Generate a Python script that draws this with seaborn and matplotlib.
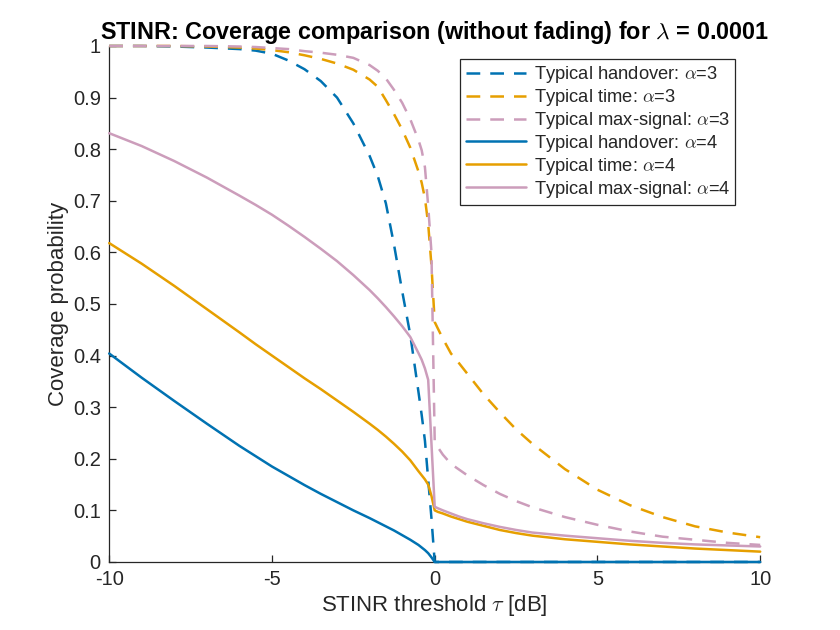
import matplotlib
matplotlib.use("Agg")
import matplotlib.pyplot as plt
import seaborn as sns
import pandas as pd

# ---- data ----
tau_db = [-10, -9, -8, -7, -6, -5.5, -5, -4.5, -4, -3.5, -3, -2.5, -2, -1.75, -1.5, -1.25, -1,
          -0.75, -0.5, -0.4, -0.3, -0.2, -0.1,
          0, 0.1, 0.25, 0.5, 0.75, 1, 1.5, 2, 2.5, 3, 4, 5, 6, 7, 8, 9, 10]

handover_a3 = [1.0, 1.0, 0.999, 0.997, 0.994, 0.991, 0.985, 0.972, 0.955, 0.932, 0.90, 0.85, 0.787,
               0.748, 0.695, 0.615, 0.525, 0.44, 0.33, 0.285, 0.235, 0.16, 0.085,
               0.0, 0, 0, 0, 0, 0, 0, 0, 0, 0, 0, 0, 0, 0, 0, 0, 0]
time_a3 = [1.0, 1.0, 1.0, 0.999, 0.997, 0.995, 0.992, 0.988, 0.982, 0.975, 0.966, 0.954, 0.935,
           0.921, 0.895, 0.868, 0.838, 0.803, 0.757, 0.735, 0.705, 0.655, 0.575,
           0.465, 0.452, 0.433, 0.404, 0.385, 0.365, 0.325, 0.29, 0.257, 0.229, 0.18, 0.14, 0.11,
           0.087, 0.069, 0.057, 0.048]
maxsig_a3 = [1.0, 1.0, 1.0, 1.0, 0.999, 0.998, 0.996, 0.994, 0.99, 0.987, 0.983, 0.977, 0.963,
             0.952, 0.937, 0.915, 0.89, 0.858, 0.818, 0.798, 0.765, 0.69, 0.60,
             0.235, 0.222, 0.208, 0.19, 0.179, 0.168, 0.149, 0.132, 0.118, 0.106, 0.087, 0.072,
             0.059, 0.049, 0.043, 0.037, 0.033]
handover_a4 = [0.404, 0.357, 0.312, 0.268, 0.225, 0.205, 0.185, 0.167, 0.149, 0.132, 0.116, 0.100,
               0.085, 0.077, 0.069, 0.061, 0.052, 0.043, 0.033, 0.028, 0.023, 0.017, 0.009,
               0.0, 0, 0, 0, 0, 0, 0, 0, 0, 0, 0, 0, 0, 0, 0, 0, 0]
time_a4 = [0.618, 0.578, 0.535, 0.490, 0.445, 0.422, 0.400, 0.378, 0.356, 0.335, 0.313, 0.291,
           0.268, 0.256, 0.243, 0.229, 0.214, 0.197, 0.176, 0.168, 0.160, 0.150, 0.128,
           0.10, 0.097, 0.094, 0.088, 0.083, 0.078, 0.07, 0.062, 0.056, 0.051, 0.044, 0.039,
           0.034, 0.03, 0.026, 0.023, 0.02]
maxsig_a4 = [0.831, 0.806, 0.777, 0.745, 0.710, 0.692, 0.673, 0.652, 0.630, 0.607, 0.583, 0.556,
             0.527, 0.511, 0.494, 0.476, 0.457, 0.436, 0.405, 0.392, 0.375, 0.353, 0.23,
             0.107, 0.104, 0.10, 0.094, 0.088, 0.083, 0.075, 0.068, 0.062, 0.057, 0.051, 0.046,
             0.041, 0.037, 0.034, 0.032, 0.03]

labels = ["Typical handover: $\\alpha$=3", "Typical time: $\\alpha$=3", "Typical max-signal: $\\alpha$=3",
          "Typical handover: $\\alpha$=4", "Typical time: $\\alpha$=4", "Typical max-signal: $\\alpha$=4"]
series = [handover_a3, time_a3, maxsig_a3, handover_a4, time_a4, maxsig_a4]

x_ticks = [-10, -5, 0, 5, 10]
y_ticks = [0, 0.1, 0.2, 0.3, 0.4, 0.5, 0.6, 0.7, 0.8, 0.9, 1]
y_tick_labels = ["0", "0.1", "0.2", "0.3", "0.4", "0.5", "0.6", "0.7", "0.8", "0.9", "1"]

# ---- style ----
sns.set_theme(style="white")
plt.rcParams['font.family'] = ['Liberation Sans', 'DejaVu Sans']
plt.rcParams['mathtext.fontset'] = 'cm'
plt.rcParams['axes.unicode_minus'] = False

colors = ["#0072B2", "#E69F00", "#CC9DBB", "#0072B2", "#E69F00", "#CC9DBB"]
styles = ["--", "--", "--", "-", "-", "-"]

fig = plt.figure(figsize=(8.4, 6.3), dpi=100)
ax = fig.add_axes([0.13, 0.108, 0.775, 0.819])

for lab, ys, c, ls in zip(labels, series, colors, styles):
    df = pd.DataFrame({"tau": tau_db, "p": ys})
    kw = dict(dashes=(5.5, 4)) if ls == "--" else {}
    sns.lineplot(data=df, x="tau", y="p", ax=ax, color=c, linewidth=1.8,
                 estimator=None, sort=False, label=lab, clip_on=False, **kw)

ax.set_xlim(-10, 10)
ax.set_ylim(0, 1)
ax.set_xticks(x_ticks)
ax.set_xticklabels([str(t) for t in x_ticks])
ax.set_yticks(y_ticks)
ax.set_yticklabels(y_tick_labels)

axc = "#262626"
for s in ["top", "right"]:
    ax.spines[s].set_visible(False)
for s in ["left", "bottom"]:
    ax.spines[s].set_color(axc)
    ax.spines[s].set_linewidth(0.9)
    ax.spines[s].set_zorder(0.5)
ax.tick_params(axis="both", direction="in", length=5, width=0.9, colors=axc,
               labelsize=14.5, labelcolor=axc, pad=6, left=True, bottom=True)

ax.set_xlabel("STINR threshold $\\tau$ [dB]", fontsize=16, color=axc, labelpad=3)
ax.set_ylabel("Coverage probability", fontsize=16, color=axc, labelpad=3)
ax.set_title("STINR: Coverage comparison (without fading) for $\\lambda$ = 0.0001",
             fontsize=16.8, fontweight="bold", color="black", pad=5)

leg = ax.legend(loc="upper right", bbox_to_anchor=(0.962, 0.975), fontsize=13.2,
                frameon=True, fancybox=False, edgecolor=axc, framealpha=1,
                handlelength=3.3, handletextpad=0.4, labelspacing=0.1,
                borderpad=0.3, borderaxespad=0)
leg.get_frame().set_linewidth(0.9)
ax.grid(False)

fig.savefig("out.png", dpi=100)
